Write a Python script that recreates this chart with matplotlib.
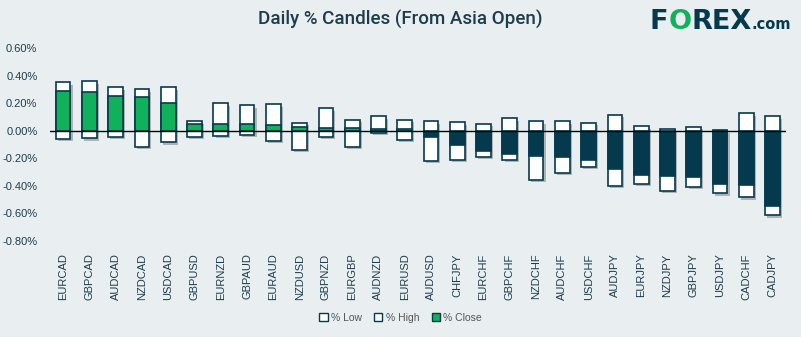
import matplotlib

matplotlib.use("Agg")
import matplotlib.pyplot as plt
import matplotlib.patheffects as pe
from matplotlib.patches import Patch

BG = "#e9eff0"
DARK = "#053a4e"
GREEN = "#0fb15a"
TEXT = "#1d3c4c"

pairs = [
    "EURCAD", "GBPCAD", "AUDCAD", "NZDCAD", "USDCAD", "GBPUSD", "EURNZD", "GBPAUD",
    "EURAUD", "NZDUSD", "GBPNZD", "EURGBP", "AUDNZD", "EURUSD", "AUDUSD", "CHFJPY",
    "EURCHF", "GBPCHF", "NZDCHF", "AUDCHF", "USDCHF", "AUDJPY", "EURJPY", "NZDJPY",
    "GBPJPY", "USDJPY", "CADCHF", "CADJPY",
]
pct_high = [
    0.354, 0.361, 0.318, 0.304, 0.318, 0.072, 0.202, 0.188,
    0.195, 0.058, 0.166, 0.080, 0.108, 0.080, 0.072, 0.065,
    0.051, 0.094, 0.072, 0.072, 0.058, 0.116, 0.036, 0.014,
    0.029, 0.007, 0.130, 0.108,
]
pct_low = [
    -0.058, -0.051, -0.043, -0.116, -0.080, -0.043, -0.036, -0.029,
    -0.072, -0.137, -0.043, -0.116, -0.014, -0.065, -0.217, -0.210,
    -0.188, -0.210, -0.354, -0.304, -0.260, -0.398, -0.383, -0.434,
    -0.405, -0.455, -0.484, -0.614,
]
pct_close = [
    0.289, 0.282, 0.253, 0.246, 0.202, 0.051, 0.051, 0.051,
    0.043, 0.027, 0.022, 0.022, 0.014, 0.014, -0.048, -0.106,
    -0.149, -0.171, -0.186, -0.193, -0.214, -0.280, -0.323, -0.330,
    -0.337, -0.388, -0.395, -0.547,
]
y_ticks = [0.6, 0.4, 0.2, 0.0, -0.2, -0.4, -0.6, -0.8]

plt.rcParams["font.family"] = ["Liberation Sans", "DejaVu Sans"]

fig = plt.figure(figsize=(8.01, 3.37), dpi=100, facecolor=BG)
ax = fig.add_axes([0.0624, 0.2849, 0.9186, 0.5727], facecolor=BG)

x = range(len(pairs))
shadow = [pe.SimplePatchShadow(offset=(1.5, -2), shadow_rgbFace="black", alpha=0.25), pe.Normal()]

ranges = ax.bar(x, [h - l for h, l in zip(pct_high, pct_low)], bottom=pct_low, width=0.56,
                color="white", edgecolor=DARK, linewidth=1.2, zorder=2)
for bar in ranges:
    bar.set_path_effects(shadow)
close_colors = [GREEN if c >= 0 else DARK for c in pct_close]
ax.bar(x, pct_close, width=0.56, color=close_colors, edgecolor=DARK, linewidth=1.2, zorder=3)
ax.axhline(0, color="black", linewidth=1, zorder=4)

ax.set_xlim(-0.5, len(pairs) - 0.5)
ax.set_ylim(-0.8, 0.6)
ax.set_yticks(y_ticks)
ax.set_yticklabels([f"{t:.2f}%" for t in y_ticks])
ax.set_xticks(list(x))
ax.set_xticklabels(pairs, rotation=90)
ax.tick_params(axis="y", length=0, pad=9, labelsize=8, labelcolor=TEXT)
ax.tick_params(axis="x", length=0, pad=9, labelsize=8, labelcolor=TEXT)
for spine in ax.spines.values():
    spine.set_visible(False)

fig.text(0.5, 1 - 19 / 337, "Daily % Candles (From Asia Open)", ha="center", va="center",
         fontsize=13.5, color=TEXT, family="Roboto", fontweight="medium")

# logo, letters chained left to right
fig.canvas.draw()
renderer = fig.canvas.get_renderer()
pos = 650 / 801
for part, color, size in [("F", DARK, 19.5), ("O", GREEN, 19.5), ("REX", DARK, 19.5), (".com", DARK, 10.5)]:
    t = fig.text(pos, 1 - 29 / 337, part, ha="left", va="baseline", fontsize=size,
                 fontweight="heavy", color=color, family="DejaVu Sans")
    pos += t.get_window_extent(renderer).width / fig.bbox.width

handles = [
    Patch(facecolor="white", edgecolor=DARK, linewidth=1, label="% Low"),
    Patch(facecolor="white", edgecolor=DARK, linewidth=1, label="% High"),
    Patch(facecolor=GREEN, edgecolor=DARK, linewidth=1, label="% Close"),
]
leg = fig.legend(handles=handles, loc="center", bbox_to_anchor=(0.5, 1 - 318 / 337), ncol=3,
                 frameon=False, fontsize=7.5, handlelength=0.8, handleheight=0.8,
                 handletextpad=0.3, columnspacing=1.2)
for t in leg.get_texts():
    t.set_color("#555555")

fig.savefig("out.png", dpi=100, facecolor=BG)
